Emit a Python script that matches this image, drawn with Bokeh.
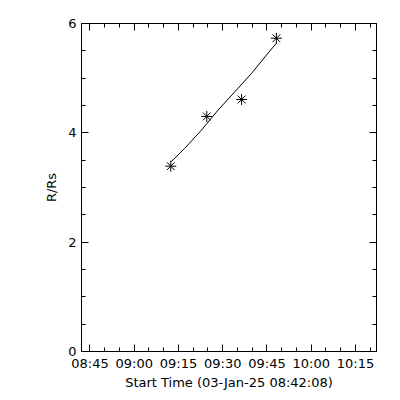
from bokeh.plotting import figure
from bokeh.models import FixedTicker, LinearAxis, Range1d
from bokeh.embed import file_html
from bokeh.resources import INLINE

# Measured points (time, R/Rs)
obs_times = ["09:12:24", "09:24:36", "09:36:24", "09:48:12"]
obs_r = [3.39, 4.30, 4.61, 5.73]

# Fitted curve
fit_times = ["09:12:30", "09:17:12", "09:22:48", "09:28:30", "09:34:06", "09:39:48", "09:45:24", "09:48:12"]
fit_r = [3.47, 3.72, 4.05, 4.42, 4.75, 5.09, 5.46, 5.64]

x_tick_labels = ["08:45", "09:00", "09:15", "09:30", "09:45", "10:00", "10:15"]
y_ticks = [0, 2, 4, 6]
start_label = "Start Time (03-Jan-25 08:42:08)"
x_start = "08:42:08"
x_end = "10:22:08"


def to_min(s):
    parts = [int(v) for v in s.split(":")]
    while len(parts) < 3:
        parts.append(0)
    return (parts[0] - 8) * 60 + parts[1] + parts[2] / 60.0


obs_x = [to_min(t) for t in obs_times]
fit_x = [to_min(t) for t in fit_times]
x_major = [to_min(t) for t in x_tick_labels]
x_minor = [x_major[0] + 5 * i for i in range(0, 20)]
y_minor = [0.5 * i for i in range(0, 13)]

FONT = "DejaVu Sans"

p = figure(width=392, height=392, output_backend="svg", toolbar_location=None,
           x_range=Range1d(to_min(x_start), to_min(x_end)), y_range=Range1d(0, 6),
           min_border_left=81, min_border_right=16, min_border_top=23, min_border_bottom=40)
p.xgrid.visible = False
p.ygrid.visible = False
p.outline_line_color = "black"
p.outline_line_width = 1
p.background_fill_color = "white"
p.border_fill_color = "white"

xt = FixedTicker(ticks=x_major, minor_ticks=x_minor)
yt = FixedTicker(ticks=y_ticks, minor_ticks=y_minor)

bottom = p.below[0]
left = p.left[0]
bottom.ticker = xt
left.ticker = yt
bottom.major_label_overrides = {v: l for v, l in zip(x_major, x_tick_labels)}
left.major_label_overrides = {v: str(v) for v in y_ticks}

top = LinearAxis(ticker=xt)
right = LinearAxis(ticker=yt)
p.add_layout(top, "above")
p.add_layout(right, "right")

for ax in [bottom, left, top, right]:
    ax.axis_line_color = "black"
    ax.major_tick_line_color = "black"
    ax.minor_tick_line_color = "black"
    ax.major_tick_in = 7
    ax.major_tick_out = 0
    ax.minor_tick_in = 4
    ax.minor_tick_out = 0
    ax.major_label_text_font = FONT
    ax.major_label_text_font_size = "13px"
    ax.major_label_text_color = "black"
    ax.axis_label_text_font = FONT
    ax.axis_label_text_font_size = "13px"
    ax.axis_label_text_font_style = "normal"
    ax.axis_label_text_color = "black"

for ax in [top, right]:
    ax.major_label_text_color = None
    ax.major_label_text_font_size = "0px"
    ax.major_label_standoff = 0

bottom.axis_label = start_label
bottom.major_label_standoff = 4
bottom.axis_label_standoff = 1
left.axis_label = "R/Rs"
left.major_label_standoff = 5
left.axis_label_standoff = 6
left.major_label_orientation = "horizontal"

p.line(fit_x, fit_r, line_color="black", line_width=1)
p.scatter(obs_x, obs_r, marker="asterisk", size=11, line_color="black", line_width=1)

open("out.html", "w").write(file_html(p, INLINE))
